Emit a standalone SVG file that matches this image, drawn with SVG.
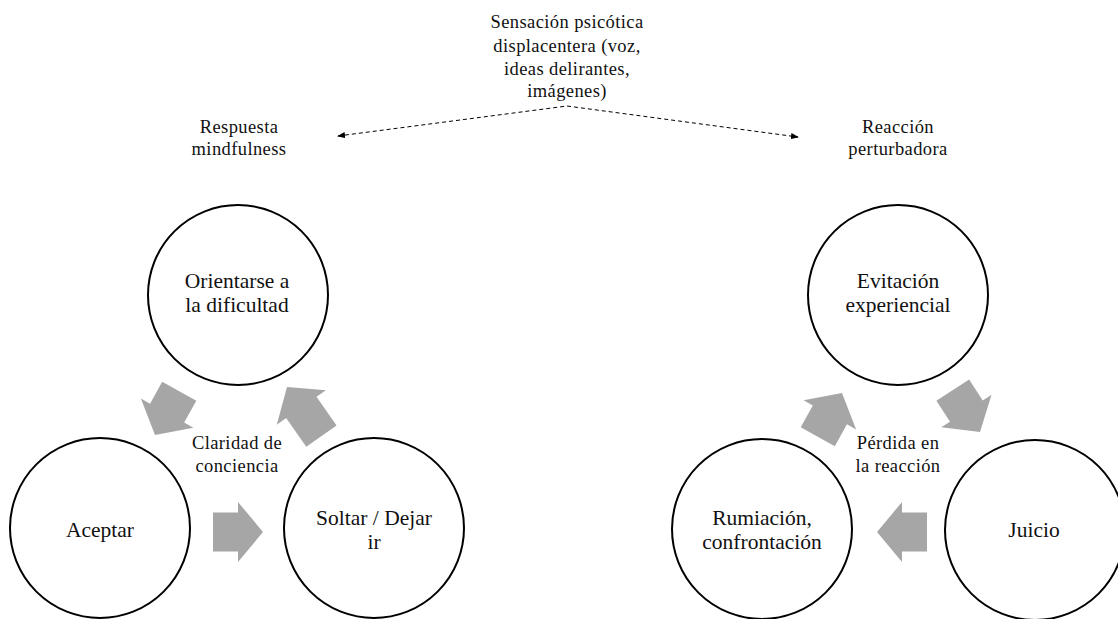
<svg xmlns="http://www.w3.org/2000/svg" width="1118" height="619" viewBox="0 0 1118 619">
<style>
.node{fill:#fff;stroke:#000;stroke-width:2}
.t{font-family:'Liberation Serif',serif;fill:#111;text-anchor:middle}
.big{font-size:21.5px}
.sm{font-size:18.5px;letter-spacing:0.4px}
.blk{fill:#a6a6a6}
.dash{fill:none;stroke:#000;stroke-width:1;stroke-dasharray:4,3}
</style>
<defs>
<marker id="ah" markerWidth="8" markerHeight="8" refX="7" refY="4" orient="auto-start-reverse" markerUnits="userSpaceOnUse">
<path d="M0,1 L8,4 L0,7 Z" fill="#000"/>
</marker>
<polygon id="arr" points="-50,-19.5 -25,-19.5 -25,-30 0,0 -25,30 -25,19.5 -50,19.5"/>
<polygon id="arrL" points="-60,-18.5 -25,-18.5 -25,-30 0,0 -25,30 -25,18.5 -60,18.5"/>
</defs>

<g id="connectors">
<path class="dash" d="M338,136 L567,106 L798,137" marker-start="url(#ah)" marker-end="url(#ah)"/>
<use href="#arr" class="blk" transform="translate(155,435) rotate(119)"/>
<use href="#arrL" class="blk" transform="translate(287,387) rotate(235)"/>
<use href="#arr" class="blk" transform="translate(263,532)"/>
<use href="#arr" class="blk" transform="translate(842,393) rotate(-61)"/>
<use href="#arr" class="blk" transform="translate(980,432) rotate(57)"/>
<use href="#arr" class="blk" transform="translate(877,532) rotate(180)"/>
</g>

<g id="titulo">
<text class="t sm" x="567" y="28">Sensación psicótica</text>
<text class="t sm" x="567" y="52">displacentera (voz,</text>
<text class="t sm" x="567" y="75">ideas delirantes,</text>
<text class="t sm" x="567" y="97">imágenes)</text>
</g>
<g id="respuesta">
<text class="t sm" x="239" y="133">Respuesta</text>
<text class="t sm" x="239" y="155">mindfulness</text>
</g>
<g id="reaccion">
<text class="t sm" x="898" y="133">Reacción</text>
<text class="t sm" x="898" y="155">perturbadora</text>
</g>

<g id="orientarse">
<circle class="node" cx="238" cy="295" r="90"/>
<text class="t big" x="237" y="288">Orientarse a</text>
<text class="t big" x="237" y="312">la dificultad</text>
</g>
<g id="aceptar">
<circle class="node" cx="100" cy="528" r="90"/>
<text class="t big" x="100" y="537">Aceptar</text>
</g>
<g id="soltar">
<circle class="node" cx="374" cy="528" r="90"/>
<text class="t big" x="374" y="525">Soltar / Dejar</text>
<text class="t big" x="374" y="549">ir</text>
</g>
<g id="claridad">
<text class="t sm" x="237" y="449">Claridad de</text>
<text class="t sm" x="237" y="472">conciencia</text>
</g>

<g id="evitacion">
<circle class="node" cx="898" cy="295" r="90"/>
<text class="t big" x="898" y="288">Evitación</text>
<text class="t big" x="898" y="312">experiencial</text>
</g>
<g id="rumiacion">
<circle class="node" cx="762" cy="529" r="90"/>
<text class="t big" x="762" y="525">Rumiación,</text>
<text class="t big" x="762" y="549">confrontación</text>
</g>
<g id="juicio">
<circle class="node" cx="1035" cy="530" r="90"/>
<text class="t big" x="1034" y="537">Juicio</text>
</g>
<g id="perdida">
<text class="t sm" x="898" y="449">Pérdida en</text>
<text class="t sm" x="898" y="472">la reacción</text>
</g>
</svg>
